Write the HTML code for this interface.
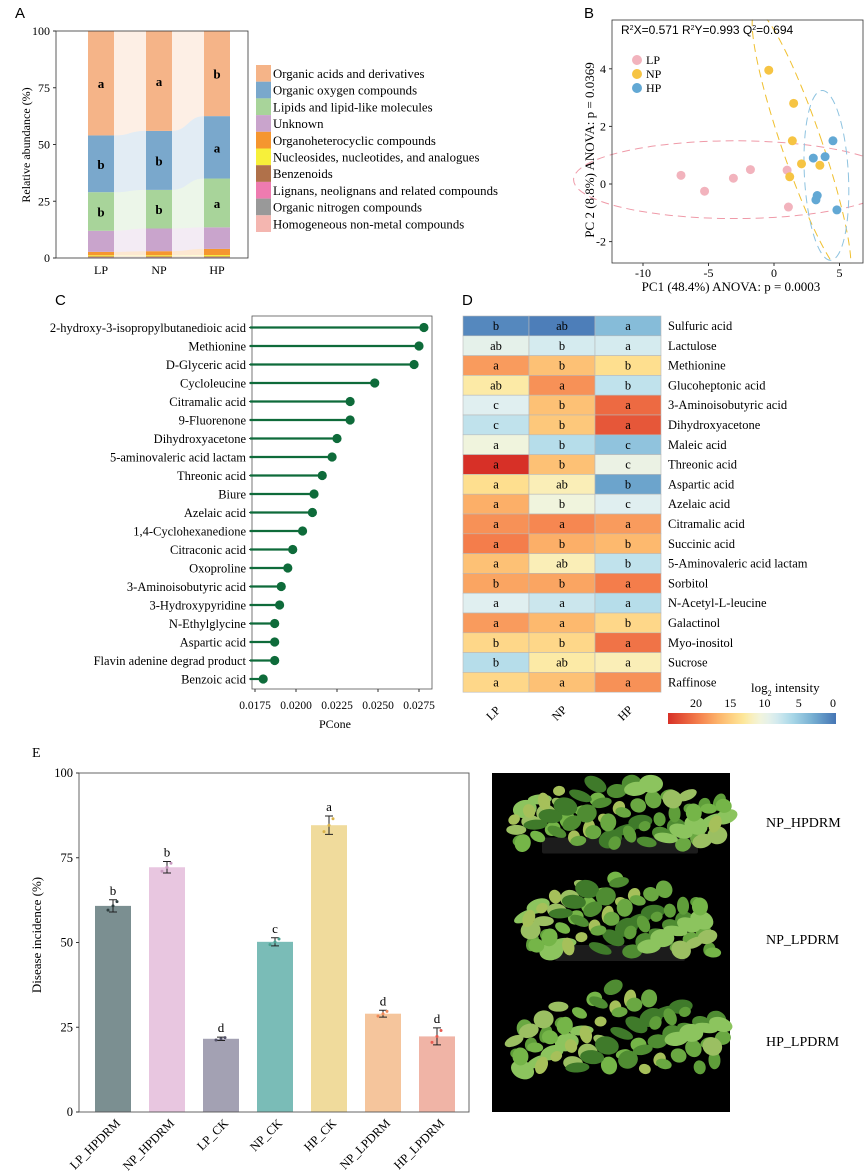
<!DOCTYPE html>
<html><head><meta charset="utf-8">
<style>
html,body{margin:0;padding:0;background:#fff;}
svg{display:block;font-family:"Liberation Serif",serif;}
.sans{font-family:"Liberation Sans",sans-serif;}
</style></head>
<body>
<svg id="fig" width="865" height="1176" viewBox="0 0 865 1176" xmlns="http://www.w3.org/2000/svg">
<g id="pA"></g>
<g id="pB"></g>
<g id="pC"></g>
<g id="pD"></g>
<g id="pE"></g>
<g id="photo"></g>
</svg>
<script>
// ---------- Panel A data ----------
const aGroups = ["LP","NP","HP"];
const aClasses = ["Homogeneous non-metal compounds","Organic nitrogen compounds","Lignans, neolignans and related compounds","Benzenoids","Nucleosides, nucleotides, and analogues","Organoheterocyclic compounds","Unknown","Lipids and lipid-like molecules","Organic oxygen compounds","Organic acids and derivatives"];
const aLP = [0.2,0.1,0.1,0.3,0.5,1.5,9.3,17,25,46];
const aNP = [0.2,0.1,0.1,0.3,0.5,1.8,10,17,26,44];
const aHP = [0.2,0.1,0.1,0.3,0.6,2.7,9.5,21.5,27.5,37.5];
const aLetters = {9:["a","a","b"],8:["b","b","a"],7:["b","b","a"]};
const aTicks = [0,25,50,75,100];
// ---------- Panel B data ----------
const bLPx = [-7.1,-5.3,-3.1,-1.8,1.0,1.1];
const bLPy = [0.3,-0.25,0.2,0.5,0.48,-0.8];
const bNPx = [-0.4,1.5,1.4,2.1,1.2,3.5];
const bNPy = [3.95,2.8,1.5,0.7,0.25,0.65];
const bHPx = [4.5,3.0,3.9,3.3,3.2,4.8];
const bHPy = [1.5,0.9,0.95,-0.4,-0.55,-0.9];
const bXTicks = [-10,-5,0,5];
const bYTicks = [-2,0,2,4];
// ---------- Panel C data ----------
const cNames = ["2-hydroxy-3-isopropylbutanedioic acid","Methionine","D-Glyceric acid","Cycloleucine","Citramalic acid","9-Fluorenone","Dihydroxyacetone","5-aminovaleric acid lactam","Threonic acid","Biure","Azelaic acid","1,4-Cyclohexanedione","Citraconic acid","Oxoproline","3-Aminoisobutyric acid","3-Hydroxypyridine","N-Ethylglycine","Aspartic acid","Flavin adenine degrad product","Benzoic acid"];
const cValues = [0.0278,0.0275,0.0272,0.0248,0.0233,0.0233,0.0225,0.0222,0.0216,0.0211,0.0210,0.0204,0.0198,0.0195,0.0191,0.0190,0.0187,0.0187,0.0187,0.0180];
const cTicks = [0.0175,0.0200,0.0225,0.0250,0.0275];
// ---------- Panel D data ----------
const dRows = ["Sulfuric acid","Lactulose","Methionine","Glucoheptonic acid","3-Aminoisobutyric acid","Dihydroxyacetone","Maleic acid","Threonic acid","Aspartic acid","Azelaic acid","Citramalic acid","Succinic acid","5-Aminovaleric acid lactam","Sorbitol","N-Acetyl-L-leucine","Galactinol","Myo-inositol","Sucrose","Raffinose"];
const dCols = ["LP","NP","HP"];
const dLP = [1,9,17,12,8.5,7,10,22.5,13,16,17.5,18.5,15,16.5,8.5,17,13.5,6.5,13.5];
const dNP = [0.5,8,15,17.5,15,14.5,6.5,15,11.5,10,18,16,11.5,16.5,7.5,15.5,13.5,12,15];
const dHP = [4,8,13,7,19.5,20.5,4.5,9.5,2.5,8.5,17,15.5,7,18.5,6.5,13.5,19,11.5,17.5];
const dLetLP = ["b","ab","a","ab","c","c","a","a","a","a","a","a","a","b","a","a","b","b","a"];
const dLetNP = ["ab","b","b","a","b","b","b","b","ab","b","a","b","ab","b","a","a","b","ab","a"];
const dLetHP = ["a","a","b","b","a","a","c","c","b","c","a","b","b","a","a","b","a","a","a"];
const dScaleTicks = [20,15,10,5,0];
// ---------- Panel E data ----------
const eCats = ["LP_HPDRM","NP_HPDRM","LP_CK","NP_CK","HP_CK","NP_LPDRM","HP_LPDRM"];
const eVals = [60.8,72.2,21.6,50.2,84.6,29.0,22.3];
const eErr = [1.8,1.7,0.5,1.2,2.7,1.0,2.5];
const eLetters = ["b","b","d","c","a","d","d"];
const eTicks = [0,25,50,75,100];

const NS="http://www.w3.org/2000/svg";
function mk(parent,tag,attrs,text){const e=document.createElementNS(NS,tag);for(const k in attrs)e.setAttribute(k,attrs[k]);if(text!==undefined)e.textContent=text;parent.appendChild(e);return e;}

// ===== Panel A =====
(function(){
const g=document.getElementById('pA');
const y=v=>258-v*2.27;
const xs=[88,146,204], bw=26;
const cols=["#f4b6b0","#999999","#ee7bb0","#b0714a","#f7f03a","#f5962f","#c9a4cc","#a8d49a","#7aa8cc","#f5b488"];
const data=[aLP,aNP,aHP];
const cum=data.map(d=>{let s=0;return d.map(v=>{const a=s;s+=v;return[a,s];});});
let t=mk(g,'text',{x:15,y:18,'font-size':15,class:'sans'},'A');

for(let k=0;k<aClasses.length;k++){
 for(let i=0;i<2;i++){
  const a=cum[i][k],b=cum[i+1][k];
  const x1=xs[i]+bw,x2=xs[i+1];
  const p=mk(g,'path',{d:`M${x1},${y(a[1])} C${(x1+x2)/2},${y(a[1])} ${(x1+x2)/2},${y(b[1])} ${x2},${y(b[1])} L${x2},${y(b[0])} C${(x1+x2)/2},${y(b[0])} ${(x1+x2)/2},${y(a[0])} ${x1},${y(a[0])} Z`,fill:cols[k],opacity:0.22});
  
 }
}
for(let i=0;i<3;i++){
 for(let k=0;k<aClasses.length;k++){
  const [a,b]=cum[i][k];
  const r=mk(g,'rect',{x:xs[i],y:y(b),width:bw,height:y(a)-y(b),fill:cols[k]});
  
  if(aLetters[k]){const tt=mk(g,'text',{x:xs[i]+bw/2,y:y((a+b)/2)+5,'font-size':13,'font-weight':'bold','text-anchor':'middle'},aLetters[k][i]);
   }
 }
 const xl=mk(g,'text',{x:xs[i]+bw/2,y:274,'font-size':12,'text-anchor':'middle'},aGroups[i]);
 
}
const fr=mk(g,'rect',{x:56,y:31,width:192,height:227,fill:'none',stroke:'#333','stroke-width':0.8});

aTicks.forEach(v=>{mk(g,'line',{x1:53,x2:56,y1:y(v),y2:y(v),stroke:'#333'});
 const tl=mk(g,'text',{x:50,y:y(v)+4,'font-size':12,'text-anchor':'end'},v);
 });
const yt=mk(g,'text',{x:0,y:0,'font-size':12,'text-anchor':'middle',transform:'translate(30,145) rotate(-90)'},'Relative abundance (%)');

for(let k=aClasses.length-1,j=0;k>=0;k--,j++){
 const yy=65+j*16.7;
 const s=mk(g,'rect',{x:256,y:yy,width:15,height:16.7,fill:cols[k]});
 
 const lt=mk(g,'text',{x:273,y:yy+13,'font-size':12.8},aClasses[k]);
 
}
})();

// ===== Panel B =====
(function(){
const g=document.getElementById('pB');
const X=v=>774+v*13.1, Y=v=>184-v*28.8;
let t=mk(g,'text',{x:584,y:18,'font-size':15,class:'sans'},'B');

const defs=[["#f2b3bd",bLPx,bLPy],["#f6c443",bNPx,bNPy],["#62a8d4",bHPx,bHPy]];
const e1=mk(g,'ellipse',{cx:X(-3),cy:Y(0.15),rx:12.3*13.1,ry:1.35*28.8,fill:'none',stroke:'#ef9aa8','stroke-width':1,'stroke-dasharray':'8,5'});

const e2=mk(g,'ellipse',{cx:X(2.1),cy:Y(1.4),rx:20,ry:140,fill:'none',stroke:'#f0c030','stroke-width':1,'stroke-dasharray':'8,5',transform:`rotate(-19 ${X(2.1)} ${Y(1.4)})`});

const e3=mk(g,'ellipse',{cx:X(4.0),cy:Y(0.3),rx:22,ry:85,fill:'none',stroke:'#8ec3e0','stroke-width':1,'stroke-dasharray':'8,5',transform:`rotate(-3 ${X(4.0)} ${Y(0.3)})`});

const names=['lp-point','np-point','hp-point'];
defs.forEach((d,gi)=>{d[1].forEach((xv,i)=>{const c=mk(g,'circle',{cx:X(xv),cy:Y(d[2][i]),r:4.5,fill:d[0]});
 });});
mk(g,'rect',{x:863,y:0,width:2,height:300,fill:'#fff'});
mk(g,'rect',{x:600,y:263.5,width:265,height:40,fill:'#fff'});
mk(g,'rect',{x:600,y:0,width:265,height:19.5,fill:'#fff'});
const fr=mk(g,'rect',{x:612,y:20,width:251,height:243,fill:'none',stroke:'#333','stroke-width':0.8});

const hd=mk(g,'text',{x:621,y:34,'font-size':12,class:'sans'});
hd.innerHTML='R<tspan font-size="7" dy="-4">2</tspan><tspan dy="4">X=0.571 R</tspan><tspan font-size="7" dy="-4">2</tspan><tspan dy="4">Y=0.993 Q</tspan><tspan font-size="7" dy="-4">2</tspan><tspan dy="4">=0.694</tspan>';

["LP","NP","HP"].forEach((n,i)=>{const c=mk(g,'circle',{cx:637,cy:60+i*14,r:5,fill:defs[i][0]});
 
 const lt=mk(g,'text',{x:646,y:64+i*14,'font-size':12},n);
 });
bXTicks.forEach(v=>{mk(g,'line',{x1:X(v),x2:X(v),y1:263,y2:266,stroke:'#333'});
 const tl=mk(g,'text',{x:X(v),y:277,'font-size':12,'text-anchor':'middle'},v);
 });
bYTicks.forEach(v=>{mk(g,'line',{x1:609,x2:612,y1:Y(v),y2:Y(v),stroke:'#333'});
 const tl=mk(g,'text',{x:606,y:Y(v)+4,'font-size':12,'text-anchor':'end'},v);
 });
const xt=mk(g,'text',{x:731,y:291,'font-size':13,'text-anchor':'middle'},'PC1 (48.4%) ANOVA: p = 0.0003');

const yt=mk(g,'text',{x:0,y:0,'font-size':13,'text-anchor':'middle',transform:'translate(594,150) rotate(-90)'},'PC 2 (8.8%) ANOVA: p = 0.0369');

})();

// ===== Panel C =====
(function(){
const g=document.getElementById('pC');
const X=v=>255+(v-0.0175)/0.0025*41;
const Y=i=>327.5+i*18.5;
let t=mk(g,'text',{x:55,y:305,'font-size':15,class:'sans'},'C');

const fr=mk(g,'rect',{x:252,y:316,width:180,height:373,fill:'none',stroke:'#555','stroke-width':0.8});

cNames.forEach((n,i)=>{
 mk(g,'line',{x1:249,x2:252,y1:Y(i),y2:Y(i),stroke:'#333'});
 const l=mk(g,'line',{x1:250,x2:X(cValues[i]),y1:Y(i),y2:Y(i),stroke:'#0e6b3a','stroke-width':2.2});
 
 const c=mk(g,'circle',{cx:X(cValues[i]),cy:Y(i),r:4.6,fill:'#0e6b3a'});
 
 const tl=mk(g,'text',{x:246,y:Y(i)+4.5,'font-size':12.5,'text-anchor':'end'},n);
 
});
cTicks.forEach(v=>{mk(g,'line',{x1:X(v),x2:X(v),y1:689,y2:692,stroke:'#333'});
 const tl=mk(g,'text',{x:X(v),y:709,'font-size':11.5,'text-anchor':'middle'},v.toFixed(4));
 });
const xt=mk(g,'text',{x:335,y:728,'font-size':12,'text-anchor':'middle'},'PCone');

})();

// ===== Panel D =====
(function(){
const g=document.getElementById('pD');
const stops=[[0,[69,117,180]],[3,[116,173,209]],[6,[171,217,233]],[8.5,[224,239,240]],[10.5,[245,245,215]],[12.5,[254,230,150]],[15.5,[253,185,110]],[18.5,[244,125,75]],[22.5,[215,48,39]]];
function col(v){v=Math.max(0,Math.min(22.5,v));for(let i=0;i<stops.length-1;i++){const[a,ca]=stops[i],[b,cb]=stops[i+1];if(v<=b){const t=(v-a)/(b-a);return`rgb(${ca.map((c,j)=>Math.round(c+(cb[j]-c)*t)).join(',')})`;}}}
let t=mk(g,'text',{x:462,y:305,'font-size':15,class:'sans'},'D');

const x0=463,cw=66,y0=316,rh=19.8;
const vals=[dLP,dNP,dHP],lets=[dLetLP,dLetNP,dLetHP];
dRows.forEach((n,r)=>{
 for(let c=0;c<3;c++){
  const rc=mk(g,'rect',{x:x0+c*cw,y:y0+r*rh,width:cw,height:rh,fill:col(vals[c][r]),stroke:'#b8b8b8','stroke-width':0.6});
  
  const tl=mk(g,'text',{x:x0+c*cw+cw/2,y:y0+r*rh+14,'font-size':12.5,'text-anchor':'middle'},lets[c][r]);
  
 }
 const rl=mk(g,'text',{x:668,y:y0+r*rh+14,'font-size':12.5},n);
 
});
dCols.forEach((n,c)=>{const tl=mk(g,'text',{x:0,y:0,'font-size':12,'text-anchor':'middle',transform:`translate(${x0+c*cw+cw/2},716) rotate(-45)`},n);
 });
const defs=mk(g,'defs',{});
const lg=mk(defs,'linearGradient',{id:'cbar',x1:'0',x2:'1',y1:'0',y2:'0'});
for(let i=0;i<=20;i++){const v=22.5-i*22.5/20;mk(lg,'stop',{offset:(i/20),'stop-color':col(v)});}
const cb=mk(g,'rect',{x:668,y:713,width:168,height:11,fill:'url(#cbar)'});

const sx=v=>833-v*6.85;
dScaleTicks.forEach(v=>{const tl=mk(g,'text',{x:sx(v),y:707,'font-size':12,'text-anchor':'middle'},v);
 });
const tt=mk(g,'text',{x:751,y:692,'font-size':13});
tt.innerHTML='log<tspan font-size="8" dy="4">2</tspan><tspan dy="-4"> intensity</tspan>';

})();

// ===== Panel E =====
(function(){
const g=document.getElementById('pE');
const Y=v=>1112-v*3.39;
const X=i=>113+i*54;
const cols=["#7b8f91","#e8c6e0","#a3a1b3","#7abcb7","#f0db9c","#f5c59c","#f0b4a6"];
const dots=["#2f3f40","#c89ac0","#55536a","#4aa090","#d9b24a","#f08a5a","#e85a50"];
let t=mk(g,'text',{x:32,y:757,'font-size':14},'E');

eCats.forEach((n,i)=>{
 const r=mk(g,'rect',{x:X(i)-18,y:Y(eVals[i]),width:36,height:Y(0)-Y(eVals[i]),fill:cols[i]});
 
 const top=Y(eVals[i]+eErr[i]),bot=Y(eVals[i]-eErr[i]);
 const eb=mk(g,'path',{d:`M${X(i)},${top}V${bot}M${X(i)-4},${top}H${X(i)+4}M${X(i)-4},${bot}H${X(i)+4}`,stroke:'#222','stroke-width':1,fill:'none'});
 
 [-5,0,4].forEach((dx,j)=>{const c=mk(g,'circle',{cx:X(i)+dx,cy:Y(eVals[i]+(j-1)*eErr[i]*0.7),r:1.5,fill:dots[i]});
  });
 const lt=mk(g,'text',{x:X(i),y:top-5,'font-size':13,'text-anchor':'middle'},eLetters[i]);
 
 const xl=mk(g,'text',{x:0,y:0,'font-size':12.5,'text-anchor':'end',transform:`translate(${X(i)+8},1124) rotate(-45)`},n);
 
});
const fr=mk(g,'rect',{x:79,y:773,width:390,height:339,fill:'none',stroke:'#555','stroke-width':0.9});

eTicks.forEach(v=>{mk(g,'line',{x1:76,x2:79,y1:Y(v),y2:Y(v),stroke:'#333'});
 const tl=mk(g,'text',{x:73,y:Y(v)+4,'font-size':12.5,'text-anchor':'end'},v);
 });
const yt=mk(g,'text',{x:0,y:0,'font-size':13,'text-anchor':'middle',transform:'translate(41,935) rotate(-90)'},'Disease incidence (%)');

})();

// ===== Photo =====
(function(){
const g=document.getElementById('photo');
const bg=mk(g,'rect',{x:492,y:773,width:238,height:339,fill:'#000'});

function plant(cy,x1,x2,h,tray,name,seed){
 const pg=mk(g,'g',{});
 
 if(tray){mk(pg,'rect',{x:x1+30,y:cy+h*0.25,width:x2-x1-60,height:16,fill:'#1c1c1c',rx:2});}
 const greens=['#5f9e3a','#75b548','#4f8c32','#8cc45e','#a6c05a','#6aa842','#9bbf62','#3f7a2a'];
 const n=70;
 for(let k=0;k<n;k++){
  const u=((k*37+seed)%101)/101, v=((k*59+seed*3)%97)/97;
  const fx=x1+u*(x2-x1);
  const spread=1-Math.abs(u-0.5)*0.8;
  const fy=cy+h*0.35-v*h*spread;
  mk(pg,'ellipse',{cx:fx,cy:fy,rx:6+(k%4)*2,ry:5+(k%3)*2,fill:greens[k%greens.length],transform:`rotate(${(k*29)%60-30} ${fx} ${fy})`});
 }
}
plant(820,512,728,70,true,'plant-tray-np-hpdrm',3);
plant(925,525,715,80,true,'plant-tray-np-lpdrm',11);
plant(1040,512,725,85,false,'plant-tray-hp-lpdrm',23);
[["NP_HPDRM",827],["NP_LPDRM",944],["HP_LPDRM",1046]].forEach(([n,yy])=>{
 const tl=mk(g,'text',{x:766,y:yy,'font-size':14},n);
 });
})();
</script>
</body></html>
